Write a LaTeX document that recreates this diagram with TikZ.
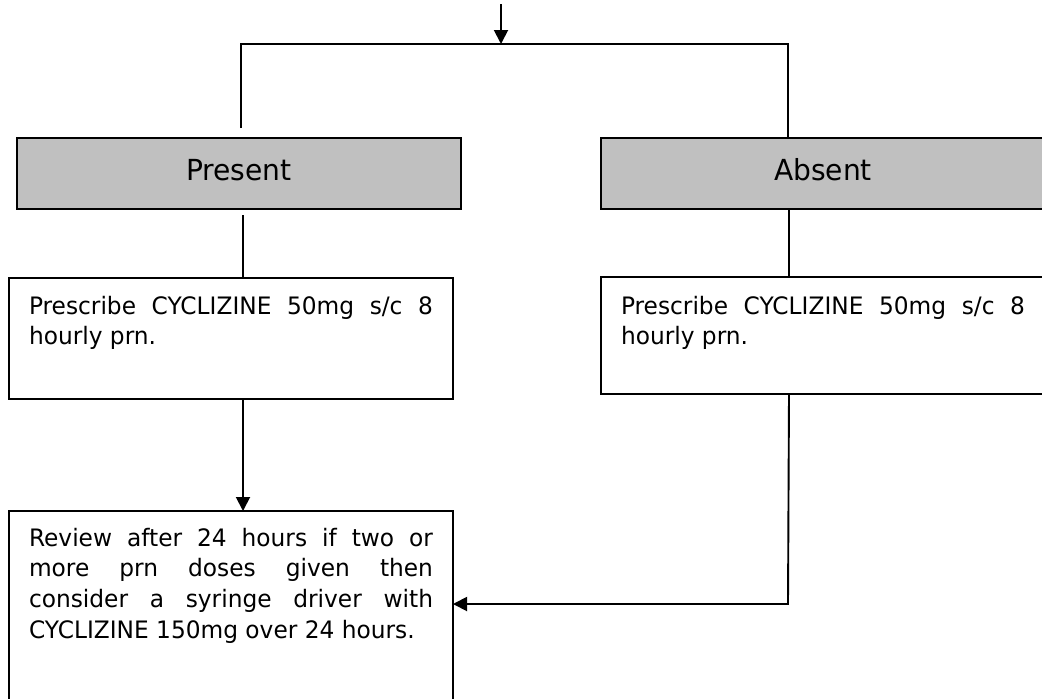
\documentclass[tikz,border=0pt]{standalone}
\usepackage{fontspec}
\setmainfont{DejaVu Sans}[FakeStretch=0.97]
\usetikzlibrary{arrows.meta}
\definecolor{headgrey}{HTML}{C0C0C0}
\begin{document}
\begin{tikzpicture}[x=1pt,y=-1pt,
  line width=1.9pt,
  tip/.style={-{Triangle[width=14pt,length=14pt]}},
  headbox/.style={draw, fill=headgrey, minimum width=444pt, inner xsep=0pt,
    inner ysep=0pt, text height=42pt, text depth=29pt, anchor=north west,
    outer sep=0pt, font=\fontsize{29}{35}\selectfont},
  stepbox/.style={draw, anchor=north west, inner xsep=20pt, inner ysep=0pt,
    outer sep=0pt, font=\fontsize{24}{30.8}\selectfont},
]
\useasboundingbox (0,0) rectangle (1042,699);

% decision outcomes
\node[headbox] (present) at (17,138) {Present};
\node[headbox] (absent) at (601,138) {Absent};

% actions
\node[stepbox] (rxL) at (9,278) {\parbox[c][121pt][t]{404pt}{\rule{0pt}{36pt}Prescribe CYCLIZINE 50mg s/c 8\linebreak hourly prn.}};
\node[stepbox] (rxR) at (601,277) {\parbox[c][117pt][t]{404pt}{\rule{0pt}{37pt}Prescribe CYCLIZINE 50mg s/c 8\linebreak hourly prn.}};
\node[stepbox] (review) at (9,511) {\parbox[c][193pt][t]{404pt}{\rule{0pt}{35pt}Review after 24 hours if two or\linebreak more prn doses given then\linebreak consider a syringe driver with\linebreak CYCLIZINE 150mg over 24 hours.}};

% incoming branch
\coordinate (entry) at (501,4);
\coordinate (split) at (501,44);
\coordinate (lcorner) at (241,44);
\coordinate (rcorner) at (788,44);
\coordinate (lstub) at (241,128);
\draw[tip] (entry) -- (split);
\draw (lstub) -- (lcorner) -- (rcorner) -- (rcorner |- absent.north);

% left column
\coordinate (lcol) at (243,215);
\draw (lcol) -- (lcol |- rxL.north);
\draw[tip] (rxL.south -| lcol) -- (lcol |- review.north);

% right column
\coordinate (rcol) at (789,0);
\coordinate (rbend) at (788,604);
\draw (absent.south -| rcol) -- (rxR.north -| rcol);
\draw[tip] (rxR.south -| rcol) -- (rbend) -- (rbend -| review.east);
\end{tikzpicture}
\end{document}
